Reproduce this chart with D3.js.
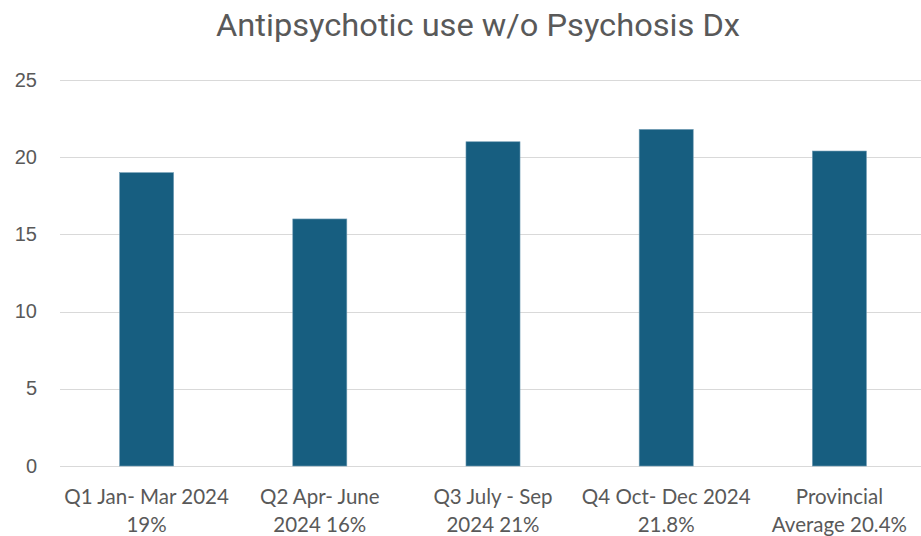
<!DOCTYPE html>
<html><head><meta charset="utf-8">
<script src="https://cdn.jsdelivr.net/npm/d3@7"></script>
<style>body{margin:0;background:#fff;} svg{display:block;}</style>
</head><body>
<script>
const categories = [["Q1 Jan- Mar 2024","19%"],["Q2 Apr- June","2024 16%"],["Q3 July - Sep","2024 21%"],["Q4 Oct- Dec 2024","21.8%"],["Provincial","Average 20.4%"]];
const values = [19, 16, 21, 21.8, 20.4];
const yTicks = [0, 5, 10, 15, 20, 25];
const title = "Antipsychotic use w/o Psychosis Dx";

const W = 921, H = 536;
const svg = d3.select("body").append("svg").attr("width", W).attr("height", H);

const x = d3.scaleBand().domain(d3.range(values.length)).range([60, 926]).paddingInner(0.688).paddingOuter(0.344);
const y = d3.scaleLinear().domain([0, 25]).range([466, 80]);

svg.append("text").attr("x", 478).attr("y", 36).attr("text-anchor", "middle")
  .attr("font-family", "Roboto, 'Liberation Sans', sans-serif").attr("font-size", 32).attr("fill", "#595959")
  .attr("textLength", 524).attr("lengthAdjust", "spacingAndGlyphs").text(title);

const grid = svg.append("g");
grid.selectAll("line").data(yTicks).join("line")
  .attr("x1", 60).attr("x2", W).attr("y1", d => Math.round(y(d)) + 0.5).attr("y2", d => Math.round(y(d)) + 0.5)
  .attr("stroke", "#d9d9d9").attr("stroke-width", 1.2);

const yAxis = svg.append("g").attr("transform", "translate(37,0)")
  .call(d3.axisLeft(y).tickValues(yTicks).tickSize(0).tickPadding(0));
yAxis.select(".domain").remove();
yAxis.selectAll("text").attr("font-family", "'Liberation Sans', Arial, sans-serif").attr("font-size", 20).attr("fill", "#595959")
  .attr("dy", "0.3em");

svg.append("g").selectAll("rect").data(values).join("rect")
  .attr("x", (d, i) => x(i)).attr("width", x.bandwidth())
  .attr("y", d => y(d)).attr("height", d => y(0) - y(d))
  .attr("fill", "#175e80").attr("stroke", "#6f9bb3").attr("stroke-width", 0.6);

const labels = svg.append("g").selectAll("text").data(categories).join("text")
  .attr("text-anchor", "middle").attr("font-family", "Lato, 'Liberation Sans', sans-serif").attr("font-size", 20.5).attr("fill", "#595959");
labels.append("tspan").attr("x", (d, i) => x(i) + x.bandwidth() / 2).attr("y", 504).text(d => d[0]);
labels.append("tspan").attr("x", (d, i) => x(i) + x.bandwidth() / 2).attr("y", 532).text(d => d[1]);
</script>
</body></html>
